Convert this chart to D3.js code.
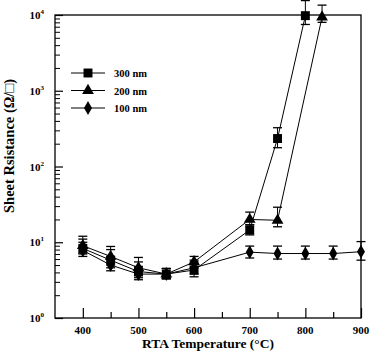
<!DOCTYPE html>
<html><head><meta charset="utf-8">
<script src="https://cdn.jsdelivr.net/npm/d3@7"></script>
<style>body{margin:0;background:#fff}</style>
</head><body><svg id="c" width="370" height="351" font-family="'Liberation Serif', 'DejaVu Serif', serif" font-weight="bold"></svg>
<script>
// Data
const seriesNames = ["300 nm", "200 nm", "100 nm"];
const temps300 = [400, 450, 500, 550, 600, 700, 750, 800];
const vals300 = [8.3, 5.8, 4.1, 3.8, 4.3, 14.5, 234, 9800];
const hi300 = [11, 8, 5.5, 4.5, 5.5, 17, 325, 15500];
const lo300 = [7, 4.6, 3.4, 3.3, 3.5, 12.5, 177, 7500];
const temps200 = [400, 450, 500, 550, 600, 700, 750, 830];
const vals200 = [9, 6.5, 4.6, 3.8, 5.5, 20, 19.5, 9400];
const hi200 = [12, 8.8, 6.3, 4.5, 6.5, 25, 29, 13500];
const lo200 = [7.2, 5, 3.6, 3.3, 4.6, 17, 16, 8000];
const temps100 = [400, 450, 500, 550, 600, 700, 750, 800, 850, 900];
const vals100 = [7.8, 5.0, 3.8, 3.8, 4.6, 7.4, 7.1, 7.1, 7.1, 7.5];
const hi100 = [10, 6.5, 4.8, 4.5, 5.8, 8.9, 8.9, 8.9, 8.9, 10.2];
const lo100 = [6.5, 4.2, 3.2, 3.3, 3.8, 6.2, 6.0, 6.0, 6.0, 5.8];
const xTickLabels = [400, 500, 600, 700, 800, 900];
const xMinorTicks = [450, 550, 650, 750, 850];
const yDecadeExps = [0, 1, 2, 3, 4];

const FONT = "'Liberation Serif', 'Times New Roman', serif";
const svg = d3.select("#c");
const L = 55, R = 361, T = 15, B = 318;
const x = d3.scaleLinear().domain([350, 900]).range([L, R]);
const y = d3.scaleLog().domain([1, 10000]).range([B, T]);

const txt = (sel) => sel.append("text").attr("font-family", FONT).attr("font-weight", "bold").attr("fill", "#000");

// frame
svg.append("rect").attr("x", L).attr("y", T).attr("width", R - L).attr("height", B - T)
  .attr("fill", "none").attr("stroke", "#000").attr("stroke-width", 1.3);

// y ticks (inward)
const yMinor = [];
for (let e = 0; e < 4; e++) for (let m = 2; m <= 9; m++) yMinor.push(m * Math.pow(10, e));
const yAxis = d3.axisRight(y).tickValues(yDecadeExps.map(e => Math.pow(10, e))).tickSize(8).tickFormat("");
svg.append("g").attr("transform", `translate(${L},0)`).call(yAxis).call(g => g.select(".domain").remove())
  .selectAll("line").attr("stroke-width", 1.2);
const yAxisMinor = d3.axisRight(y).tickValues(yMinor).tickSize(5).tickFormat("");
svg.append("g").attr("transform", `translate(${L},0)`).call(yAxisMinor).call(g => g.select(".domain").remove())
  .selectAll("line").attr("stroke-width", 1);
// y labels
yDecadeExps.forEach(e => {
  const t = txt(svg).attr("x", 44).attr("y", y(Math.pow(10, e)) + 4).attr("text-anchor", "end").attr("font-size", 11);
  t.append("tspan").text("10");
  t.append("tspan").attr("font-size", 7).attr("dy", -5).text(e);
});

// x ticks (inward, up)
const xAxis = d3.axisTop(x).tickValues(xTickLabels).tickSize(10).tickFormat("");
svg.append("g").attr("transform", `translate(0,${B})`).call(xAxis).call(g => g.select(".domain").remove())
  .selectAll("line").attr("stroke-width", 1.2);
const xAxisMinor = d3.axisTop(x).tickValues(xMinorTicks).tickSize(6).tickFormat("");
svg.append("g").attr("transform", `translate(0,${B})`).call(xAxisMinor).call(g => g.select(".domain").remove())
  .selectAll("line").attr("stroke-width", 1.2);
xTickLabels.forEach(v => {
  txt(svg).attr("x", x(v)).attr("y", B + 16).attr("text-anchor", "middle").attr("font-size", 11).text(v);
});

// axis titles
txt(svg).attr("x", 208).attr("y", 348).attr("text-anchor", "middle").attr("font-size", 13.5).text("RTA Temperature (°C)");
txt(svg).attr("transform", "translate(14,146) rotate(-90)").attr("text-anchor", "middle").attr("font-size", 14.5).text("Sheet Rsistance (Ω/□)");

// series
const series = [
  {name: seriesNames[0], t: temps300, v: vals300, hi: hi300, lo: lo300, sym: d3.symbolSquare, size: 80},
  {name: seriesNames[1], t: temps200, v: vals200, hi: hi200, lo: lo200, sym: d3.symbolTriangle, size: 60},
  {name: seriesNames[2], t: temps100, v: vals100, hi: hi100, lo: lo100, sym: d3.symbolDiamond, size: 55}
];
const line = d3.line().x(d => x(d[0])).y(d => y(d[1]));
series.forEach(s => {
  const pts = s.t.map((t, i) => [t, s.v[i], s.hi[i], s.lo[i]]);
  svg.append("path").attr("d", line(pts)).attr("fill", "none").attr("stroke", "#000").attr("stroke-width", 1);
  const g = svg.append("g");
  pts.forEach(p => {
    const cx = x(p[0]);
    g.append("line").attr("x1", cx).attr("x2", cx).attr("y1", y(p[2])).attr("y2", y(p[3])).attr("stroke", "#000").attr("stroke-width", 1);
    [p[2], p[3]].forEach(v => g.append("line").attr("x1", cx - 4.5).attr("x2", cx + 4.5).attr("y1", y(v)).attr("y2", y(v)).attr("stroke", "#000").attr("stroke-width", 1.3));
    g.append("path").attr("d", d3.symbol().type(s.sym).size(s.size)()).attr("transform", `translate(${cx},${y(p[1])})`).attr("fill", "#000");
  });
});

// legend
series.forEach((s, i) => {
  const ly = 73 + i * 17.5;
  svg.append("line").attr("x1", 71).attr("x2", 105).attr("y1", ly).attr("y2", ly).attr("stroke", "#000").attr("stroke-width", 1);
  svg.append("path").attr("d", d3.symbol().type(s.sym).size(s.size)()).attr("transform", `translate(88,${ly})`).attr("fill", "#000");
  txt(svg).attr("x", 114).attr("y", ly + 4).attr("font-size", 10.5).text(s.name);
});
</script></body></html>
